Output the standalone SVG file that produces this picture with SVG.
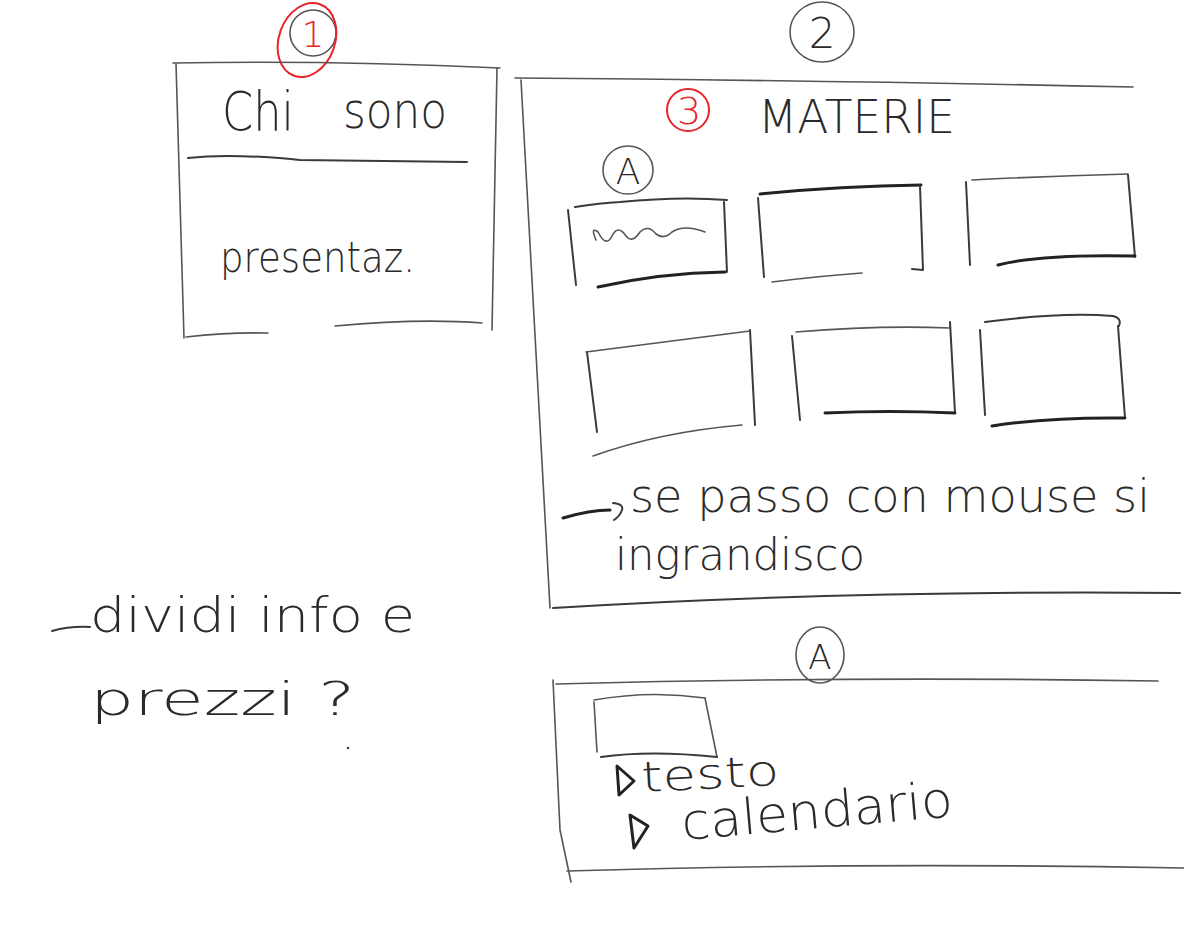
<svg xmlns="http://www.w3.org/2000/svg" width="1184" height="931" viewBox="0 0 1184 931">
<style>
.ln{fill:none;stroke:#3a3a3a;stroke-width:2;stroke-linecap:round;stroke-linejoin:round}
.lt{fill:none;stroke:#555;stroke-width:1.6;stroke-linecap:round;stroke-linejoin:round}
.th{fill:none;stroke:#222;stroke-width:3;stroke-linecap:round;stroke-linejoin:round}
.red{fill:none;stroke:#e8232a;stroke-width:2;stroke-linecap:round}
.t{font-family:"DejaVu Sans","Liberation Sans",sans-serif;font-weight:200;fill:#2a2a2a}
.tr{font-family:"DejaVu Sans","Liberation Sans",sans-serif;font-weight:200;fill:#e8232a}
</style>
<rect width="1184" height="931" fill="#fff"/>

<g id="panel-chi-sono">
  <ellipse class="lt" cx="313" cy="33" rx="23" ry="23"/>
  <ellipse class="red" cx="307" cy="40" rx="28" ry="38" transform="rotate(20 307 40)"/>
  <text class="tr" x="313" y="47" font-size="36" text-anchor="middle">1</text>
  <path class="lt" d="M173 63 Q330 60 500 68"/>
  <path class="lt" d="M176 64 L184 338"/>
  <path class="lt" d="M497 68 L492 330"/>
  <path class="lt" d="M186 337 Q230 332 268 333"/>
  <path class="lt" d="M335 326 Q420 318 482 323"/>
  <path class="ln" d="M188 158 Q230 153 300 160 L467 162"/>
  <text class="t" x="222" y="130" font-size="54" textLength="72" lengthAdjust="spacingAndGlyphs">Chi</text>
  <text class="t" x="343" y="128" font-size="50" textLength="104" lengthAdjust="spacingAndGlyphs">sono</text>
  <text class="t" x="220" y="272" font-size="42" textLength="195" lengthAdjust="spacingAndGlyphs">presentaz.</text>
</g>

<g id="panel-materie">
  <ellipse class="lt" cx="822" cy="32" rx="32" ry="30"/>
  <text class="t" x="822" y="48" font-size="42" text-anchor="middle">2</text>
  <path class="lt" d="M515 78 Q800 80 1133 87"/>
  <path class="lt" d="M521 80 L550 608"/>
  <path class="ln" d="M553 608 Q850 590 1180 593"/>
  <circle class="red" cx="688" cy="110" r="21"/>
  <text class="tr" x="689" y="124" font-size="38" text-anchor="middle">3</text>
  <text class="t" x="758" y="133" font-size="46" textLength="197" lengthAdjust="spacingAndGlyphs">MATERIE</text>
  <ellipse class="lt" cx="628" cy="170" rx="25" ry="24"/>
  <text class="t" x="628" y="184" font-size="36" text-anchor="middle">A</text>
</g>

<g id="card-a1">
  <path class="ln" d="M568 210 L576 285"/>
  <path class="ln" d="M575 207 Q600 203 620 202 Q680 196 727 200"/>
  <path class="ln" d="M724 202 L727 272"/>
  <path class="th" d="M598 287 Q660 273 725 272"/>
  <path class="lt" d="M596 240 Q590 226 598 232 Q606 248 612 236 Q618 224 626 236 Q632 244 640 232 Q648 224 656 234 Q664 240 672 232 Q684 224 705 232"/>
</g>
<g id="card-a2">
  <path class="ln" d="M758 198 L764 277"/>
  <path class="th" d="M760 194 Q840 186 921 185"/>
  <path class="ln" d="M920 186 L923 270 L912 269"/>
  <path class="lt" d="M772 282 Q820 276 862 273"/>
</g>
<g id="card-a3">
  <path class="ln" d="M966 182 L970 265"/>
  <path class="lt" d="M972 180 Q1050 176 1128 174"/>
  <path class="ln" d="M1128 175 L1135 257"/>
  <path class="th" d="M998 265 Q1040 254 1135 256"/>
</g>
<g id="card-b1">
  <path class="ln" d="M587 352 L597 432"/>
  <path class="lt" d="M586 352 Q680 340 750 331"/>
  <path class="ln" d="M750 330 L755 425"/>
  <path class="lt" d="M593 456 Q660 432 742 425"/>
</g>
<g id="card-b2">
  <path class="ln" d="M792 336 L800 420"/>
  <path class="lt" d="M796 332 Q880 325 950 328"/>
  <path class="ln" d="M950 322 L955 413"/>
  <path class="th" d="M825 413 Q890 410 955 413"/>
</g>
<g id="card-b3">
  <path class="ln" d="M980 330 L985 415"/>
  <path class="ln" d="M985 322 Q1060 312 1113 316 Q1122 318 1119 326"/>
  <path class="ln" d="M1118 326 L1125 418"/>
  <path class="th" d="M992 426 Q1050 417 1125 418"/>
</g>

<g id="connectors">
  <path class="th" d="M563 518 Q590 510 610 510"/>
  <path class="ln" d="M613 503 Q624 504 622 510 Q620 516 614 520"/>
</g>

<g id="note-hover">
  <text class="t" x="630" y="512" font-size="46" textLength="520" lengthAdjust="spacingAndGlyphs">se passo con mouse si</text>
  <text class="t" x="615" y="570" font-size="44" textLength="250" lengthAdjust="spacingAndGlyphs">ingrandisco</text>
</g>

<g id="note-left">
  <path class="ln" d="M52 631 Q70 626 90 627"/>
  <text class="t" x="90" y="632" font-size="48" textLength="325" lengthAdjust="spacingAndGlyphs">dividi info e</text>
  <text class="t" x="90" y="715" font-size="46" textLength="265" lengthAdjust="spacingAndGlyphs">prezzi ?</text>
  <circle cx="348" cy="748" r="1.3" fill="#444"/>
</g>

<g id="panel-detail">
  <ellipse class="lt" cx="820" cy="655" rx="24" ry="28"/>
  <text class="t" x="820" y="669" font-size="34" text-anchor="middle">A</text>
  <path class="lt" d="M556 684 Q850 676 1158 681"/>
  <path class="lt" d="M553 680 L560 830 L571 882"/>
  <path class="lt" d="M567 871 Q860 862 1184 868"/>
  <path class="lt" d="M594 700 Q650 690 705 698"/>
  <path class="lt" d="M594 702 L597 752"/>
  <path class="lt" d="M705 698 L717 757"/>
  <path class="ln" d="M601 757 Q650 750 717 757"/>
  <path class="th" d="M617 766 L619 795 L634 781 Z"/>
  <text class="t" x="642" y="792" font-size="42" textLength="138" lengthAdjust="spacingAndGlyphs" transform="rotate(-3 642 792)">testo</text>
  <path class="th" d="M630 815 L634 848 L648 826 Z"/>
  <text class="t" x="683" y="840" font-size="50" textLength="272" lengthAdjust="spacingAndGlyphs" transform="rotate(-5 683 840)">calendario</text>
</g>
</svg>
